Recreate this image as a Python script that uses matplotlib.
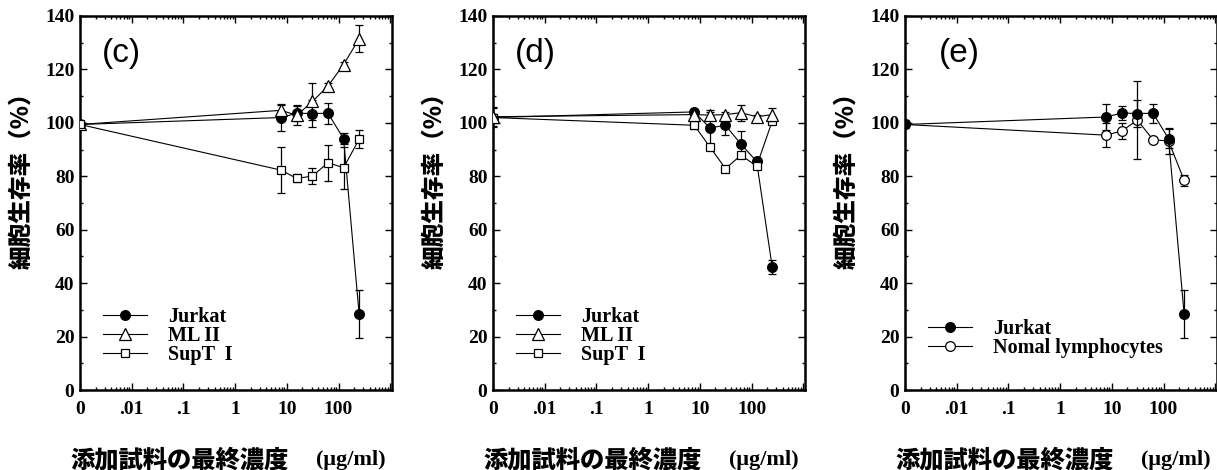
import matplotlib.pyplot as plt
from matplotlib.ticker import FixedLocator, LogLocator, MultipleLocator, NullFormatter

# 濃度 (0 は対数軸の左端 0.001 に置く)
conc = [0.001, 7.8, 15.6, 31.25, 62.5, 125, 250]
xtick_pos = [0.001, 0.01, 0.1, 1, 10, 100, 1000]
xtick_lab = ['0', '.01', '.1', '1', '10', '100', '']

# (c)
c_jurkat = [99.4, 102.0, 103.6, 103.5, 103.6, 94.1, 28.4]
c_jurkat_err = [1.0, 5.0, 3.0, 5.0, 4.0, 2.0, 9.0]
c_ml2 = [99.4, 104.7, 102.8, 108.0, 113.8, 121.8, 131.5]
c_ml2_err = [1.0, 2.0, 3.5, 7.0, 1.0, 1.0, 5.0]
c_supt = [99.4, 82.3, 79.2, 80.1, 85.1, 83.2, 93.9]
c_supt_err = [1.0, 8.5, 1.5, 3.0, 6.7, 7.8, 3.3]
c_labels = ['Jurkat', 'ML II', 'SupT  I']

# (d)
d_jurkat = [102.0, 104.1, 98.1, 99.1, 92.0, 85.6, 46.1]
d_jurkat_err = [3.5, 1.0, 6.0, 3.5, 5.0, 1.0, 2.5]
d_ml2 = [102.3, 103.1, 102.9, 103.1, 103.8, 102.3, 103.1]
d_ml2_err = [3.5, 1.0, 2.0, 1.0, 3.0, 0.5, 2.5]
d_supt = [102.0, 99.1, 91.0, 82.9, 87.9, 83.8, 100.6]
d_supt_err = [1.0, 1.5, 1.0, 0.5, 1.0, 1.0, 1.0]

# (e)
e_jurkat = [99.4, 102.2, 103.7, 103.5, 103.6, 94.1, 28.4]
e_jurkat_err = [1.5, 5.0, 2.5, 5.0, 3.5, 3.5, 9.0]
e_normal = [99.4, 95.4, 97.0, 101.0, 93.7, 93.2, 78.5]
e_normal_err = [1.0, 4.5, 3.0, 14.6, 1.0, 5.0, 2.0]
e_labels = ['Jurkat', 'Nomal lymphocytes']

plt.rcParams['font.family'] = ['Liberation Serif', 'DejaVu Serif']
plt.rcParams['font.weight'] = 'bold'

JP = ['Noto Sans CJK JP', 'DejaVu Sans']


def draw_series(ax, y, err, marker, fill, ms, z):
    h = ax.errorbar(conc, y, yerr=err, fmt='-', marker=marker, ms=ms,
                    mfc=fill, mec='black', mew=0.9, color='black', lw=0.8,
                    elinewidth=0.9, capsize=3, capthick=0.9, zorder=z)
    # 凡例にはエラーバー無しの線だけ使う
    return h[0]


def add_legend(ax, handles, labels, y0):
    ax.legend(handles, labels, loc='lower left', bbox_to_anchor=(0.03, y0),
              frameon=False, fontsize=14.5, handlelength=2.15, handletextpad=1.05,
              labelspacing=-0.05, borderpad=0.2)


def setup_axes(ax, tag, tag_x=0.07):
    ax.set_xscale('log')
    ax.set_xlim(1e-3, 1080)
    ax.set_ylim(0, 140)
    ax.xaxis.set_major_locator(FixedLocator(xtick_pos))
    ax.set_xticklabels(xtick_lab)
    ax.xaxis.set_minor_locator(LogLocator(base=10, subs=range(2, 10), numticks=20))
    ax.xaxis.set_minor_formatter(NullFormatter())
    ax.yaxis.set_major_locator(MultipleLocator(20))
    ax.yaxis.set_minor_locator(MultipleLocator(10))
    ax.tick_params(which='both', direction='in', top=True, right=True, width=1.0)
    ax.tick_params(which='major', length=5, labelsize=14)
    ax.tick_params(which='minor', length=2.5)
    ax.tick_params(axis='x', which='major', pad=8)
    ax.tick_params(axis='y', which='major', pad=4)
    for s in ax.spines.values():
        s.set_linewidth(1.8)
    ax.text(tag_x, 0.90, tag, transform=ax.transAxes, fontsize=24,
            family='Liberation Sans', fontweight='normal', va='center', ha='left')
    ax.set_ylabel('細胞生存率（%）', family=JP, fontsize=17, fontweight='heavy', va='center')
    ax.yaxis.set_label_coords(-0.19, 0.575)
    ax.text(-0.03, -0.187, '添加試料の最終濃度', transform=ax.transAxes, family=JP,
            fontsize=17.5, fontweight='heavy', ha='left', va='center')
    ax.text(0.755, -0.187, '(μg/ml)', transform=ax.transAxes, fontsize=16,
            fontweight='bold', ha='left', va='center')


fig = plt.figure(figsize=(12.17, 4.70), dpi=100)
w, h = 0.2564, 0.796
ax_c = fig.add_axes([0.0657, 0.170, w, h])
ax_d = fig.add_axes([0.4051, 0.170, w, h])
ax_e = fig.add_axes([0.7436, 0.170, w, h])

# (c)
h1 = draw_series(ax_c, c_jurkat, c_jurkat_err, 'o', 'black', 7, 3)
h2 = draw_series(ax_c, c_ml2, c_ml2_err, '^', 'white', 8, 4)
h3 = draw_series(ax_c, c_supt, c_supt_err, 's', 'white', 6, 5)
setup_axes(ax_c, '(c)')
add_legend(ax_c, [h1, h2, h3], c_labels, 0.03)

# (d)
h1 = draw_series(ax_d, d_jurkat, d_jurkat_err, 'o', 'black', 7, 3)
h3 = draw_series(ax_d, d_supt, d_supt_err, 's', 'white', 6, 4)
h2 = draw_series(ax_d, d_ml2, d_ml2_err, '^', 'white', 8, 5)
setup_axes(ax_d, '(d)')
add_legend(ax_d, [h1, h2, h3], c_labels, 0.03)

# (e)
h2 = draw_series(ax_e, e_normal, e_normal_err, 'o', 'white', 7, 3)
h1 = draw_series(ax_e, e_jurkat, e_jurkat_err, 'o', 'black', 7, 4)
setup_axes(ax_e, '(e)', tag_x=0.11)
add_legend(ax_e, [h1, h2], e_labels, 0.048)

fig.savefig('out.png', dpi=100)
